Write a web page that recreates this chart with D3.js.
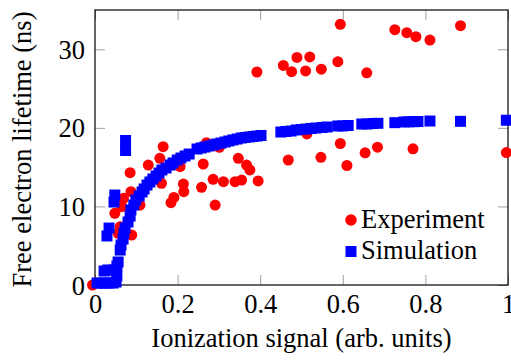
<!DOCTYPE html>
<html><head><meta charset="utf-8">
<script src="https://cdn.jsdelivr.net/npm/d3@7"></script>
<style>body{margin:0;background:#fff}svg{display:block}svg text{font-family:"Liberation Serif","DejaVu Serif","Times New Roman",Times,serif !important;fill:#000}</style>
</head><body>
<script>
const xTicks = [0, 0.2, 0.4, 0.6, 0.8, 1];
const xTickLabels = ["0", "0.2", "0.4", "0.6", "0.8", "1"];
const yTicks = [0, 10, 20, 30];
const yTickLabels = ["0", "10", "20", "30"];
const seriesNames = ["Experiment", "Simulation"];
const xLabel = "Ionization signal (arb. units)";
const yLabel = "Free electron lifetime (ns)";

const experimentX = [-0.006,0.048,0.065,0.069,0.056,0.089,0.061,0.085,0.087,0.109,0.129,0.157,0.165,0.161,0.206,0.214,0.215,0.191,0.184,0.262,0.258,0.286,0.311,0.339,0.355,0.395,0.291,0.347,0.367,0.375,0.468,0.547,0.594,0.610,0.654,0.684,0.770,0.996,0.513,0.270,0.301,
  0.392,0.456,0.476,0.489,0.520,0.510,0.548,0.588,0.594,0.658,0.726,0.755,0.777,0.811,0.885];
const experimentY = [0.0,9.13,9.97,11.03,6.58,6.36,7.42,14.29,11.87,10.18,15.27,16.13,17.60,12.94,15.06,12.85,11.87,11.14,10.47,15.40,12.43,13.45,13.15,13.15,13.36,13.24,10.18,16.13,15.27,14.64,15.91,16.25,18.01,15.21,16.83,17.54,17.33,16.86,19.22,18.11,17.53,
  27.11,27.94,27.15,28.96,29.02,27.24,27.47,28.42,33.18,27.01,32.49,32.11,31.60,31.18,33.0];

const simulationX = [0.005,0.015,0.024,0.034,0.044,0.051,0.022,0.031,0.046,0.053,0.053,0.056,
  0.029,0.034,0.046,0.048,0.074,0.074,
  0.061,0.063,0.068,0.070,0.073,0.080,0.085,0.087,0.094,0.099,0.107,0.114,0.119,0.126,0.133,0.140,0.148,0.155,0.162,0.172,0.182,0.189,0.199,0.208,0.218,0.228,
  0.247,0.257,0.266,0.276,0.286,0.295,0.305,0.315,0.324,0.334,0.344,0.354,0.363,0.373,0.383,0.392,0.402,
  0.450,0.462,0.475,0.487,0.499,0.511,0.523,0.535,0.550,0.562,0.588,0.600,0.613,0.646,0.659,0.673,0.685,0.726,0.748,0.760,0.772,0.782,0.811,0.885,0.996];
const simulationY = [0.25,0.25,0.25,0.25,0.25,0.38,1.78,1.91,1.91,1.15,2.42,2.93,
  6.24,7.25,10.56,11.45,18.39,17.12,
  4.45,5.09,5.85,6.62,7.25,8.02,8.78,9.55,10.18,10.82,11.33,11.84,12.22,12.73,13.11,13.49,13.87,14.25,14.64,14.89,15.27,15.53,15.91,16.16,16.42,16.67,
  17.31,17.44,17.56,17.69,17.82,17.95,18.07,18.20,18.33,18.46,18.58,18.71,18.77,18.84,18.90,18.96,19.03,
  19.47,19.54,19.60,19.73,19.79,19.85,19.92,19.98,20.05,20.11,20.24,20.24,20.30,20.49,20.49,20.55,20.58,20.66,20.75,20.78,20.78,20.81,20.87,20.83,20.97];

const W = 511, H = 361;
const m = {left: 95, right: 3, top: 10, bottom: 76};
const FONT = '"Liberation Serif","DejaVu Serif","Times New Roman",Times,serif';
const svg = d3.select("body").append("svg").attr("width", W).attr("height", H).attr("font-family", FONT);
const x = d3.scaleLinear().domain([0, 1]).range([m.left, W - m.right]);
const y = d3.scaleLinear().domain([0, 35]).range([H - m.bottom, m.top]);
const FS = 26.5;
const tickLen = 10;

// tick marks (inward, gray) on all four sides
const gb = svg.append("g").attr("transform", `translate(0,${y(0)})`).call(d3.axisTop(x).tickValues(xTicks).tickSize(tickLen).tickFormat(""));
const gt = svg.append("g").attr("transform", `translate(0,${y(35)})`).call(d3.axisBottom(x).tickValues(xTicks).tickSize(tickLen).tickFormat(""));
const gl = svg.append("g").attr("transform", `translate(${x(0)},0)`).call(d3.axisRight(y).tickValues(yTicks).tickSize(tickLen).tickFormat(""));
const gr = svg.append("g").attr("transform", `translate(${x(1)},0)`).call(d3.axisLeft(y).tickValues(yTicks).tickSize(tickLen).tickFormat(""));
[gb, gt, gl, gr].forEach(a => { a.select(".domain").remove(); a.selectAll("line").attr("stroke", "#a0a0a0").attr("stroke-width", 1); });

// tick labels
const gxl = svg.append("g").attr("transform", `translate(0,${y(0)})`).call(d3.axisBottom(x).tickValues(xTicks).tickSize(0).tickPadding(0).tickFormat((d,i)=>xTickLabels[i]));
gxl.attr("font-family", FONT).select(".domain").remove();
gxl.selectAll("text").attr("font-size", FS).attr("font-family", FONT).attr("dy", null).attr("y", 28);
const gyl = svg.append("g").attr("transform", `translate(${x(0)},0)`).call(d3.axisLeft(y).tickValues(yTicks).tickSize(0).tickPadding(0).tickFormat((d,i)=>yTickLabels[i]));
gyl.attr("font-family", FONT).select(".domain").remove();
gyl.selectAll("text").attr("font-size", FS).attr("font-family", FONT).attr("x", -10).attr("dy", "0.34em");

// frame
svg.append("rect").attr("x", x(0)).attr("y", y(35)).attr("width", x(1) - x(0)).attr("height", y(0) - y(35))
  .attr("fill", "none").attr("stroke", "#000").attr("stroke-width", 1.2);

// data
svg.append("g").selectAll("circle").data(experimentX).join("circle")
  .attr("cx", (d) => x(d)).attr("cy", (d,i) => y(experimentY[i])).attr("r", 5.5).attr("fill", "#ff0000");
const S = 11;
svg.append("g").selectAll("rect").data(simulationX).join("rect")
  .attr("x", d => x(d) - S/2).attr("y", (d,i) => y(simulationY[i]) - S/2).attr("width", S).attr("height", S).attr("fill", "#0000ff");

// legend
const lg = svg.append("g");
lg.append("circle").attr("cx", 351).attr("cy", 220).attr("r", 5.8).attr("fill", "#ff0000");
lg.append("text").attr("x", 361).attr("y", 228).attr("font-size", FS).attr("font-family", FONT).text(seriesNames[0]);
lg.append("rect").attr("x", 345.5).attr("y", 246).attr("width", 11).attr("height", 11).attr("fill", "#0000ff");
lg.append("text").attr("x", 361).attr("y", 259).attr("font-size", FS).attr("font-family", FONT).text(seriesNames[1]);

// axis labels
svg.append("text").attr("x", (x(0) + x(1)) / 2).attr("y", 347).attr("text-anchor", "middle").attr("font-size", FS).attr("font-family", FONT).text(xLabel);
svg.append("text").attr("transform", `translate(31,${(y(0)+y(35))/2 + 2}) rotate(-90)`).attr("text-anchor", "middle").attr("font-size", FS).attr("font-family", FONT).text(yLabel);
</script>
</body></html>
